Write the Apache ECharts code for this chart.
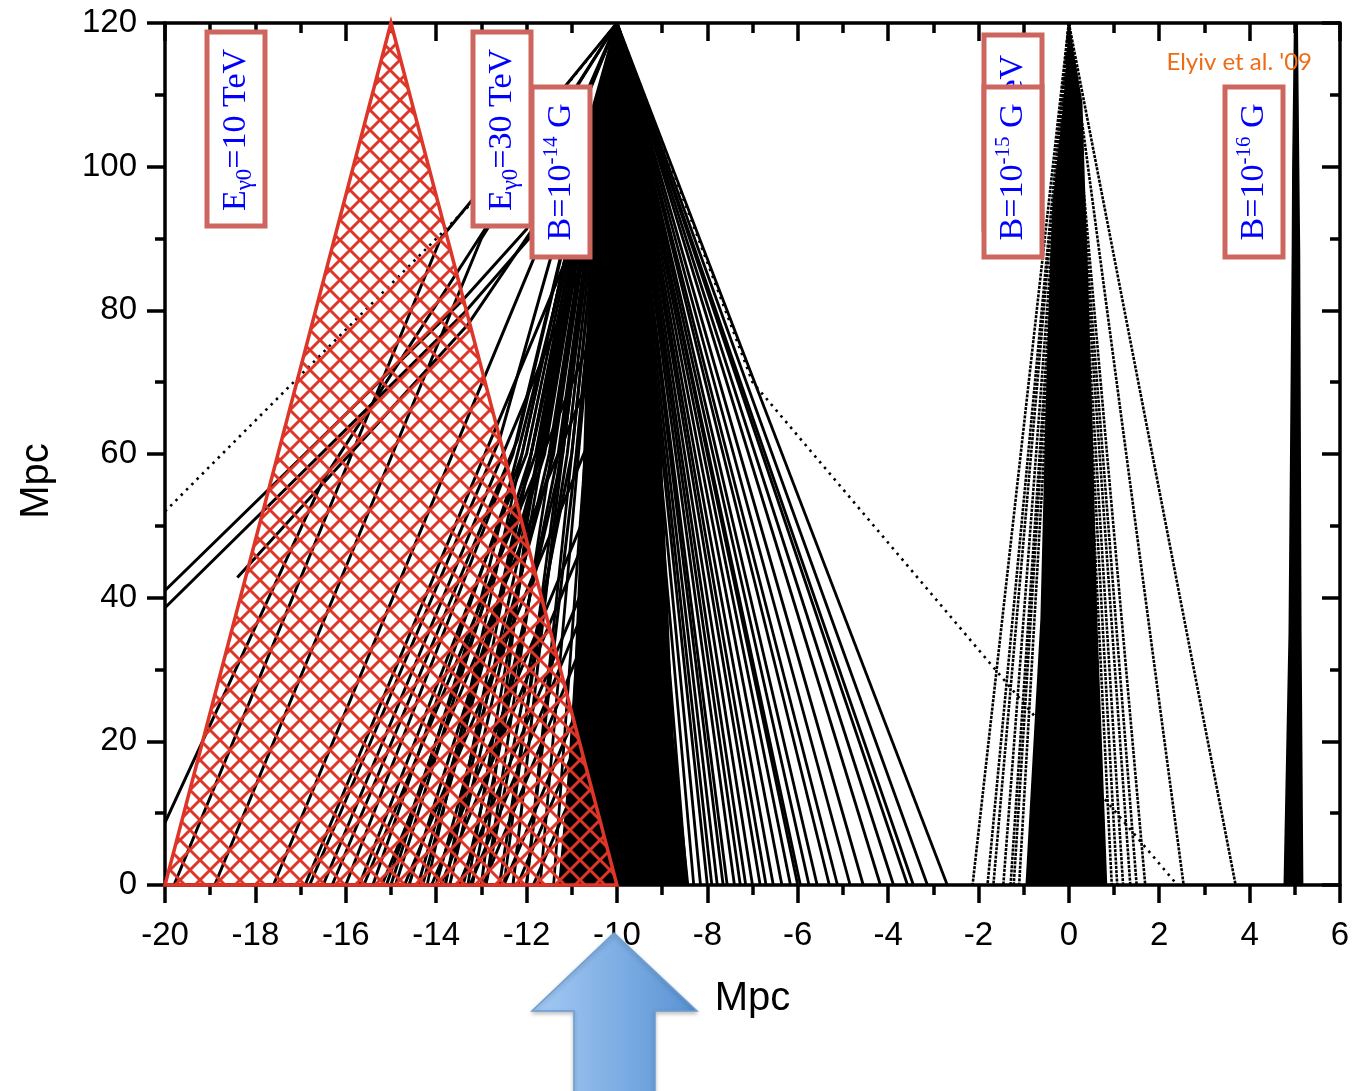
<!DOCTYPE html>
<html><head><meta charset="utf-8">
<script src="https://cdn.jsdelivr.net/npm/echarts@6/dist/echarts.min.js"></script>
<style>html,body{margin:0;padding:0;background:#fff;}#c{width:1353px;height:1091px;}</style>
</head><body><div id="c"></div>
<script>
// ---------------- data (Mpc) ----------------
const triangleX = [-20, -15, -10];
const triangleY = [0, 120, 0];

const fan1Apex = [-10, 120];
const fan1Ends = [-14.2, -13.8, -13.3, -12.9, -12.5, -12.0, -11.7, -11.4,
  -8.9, -8.7, -8.6, -8.45, -8.3, -8.15, -8.0, -7.9, -7.78, -7.65, -7.56, -7.4, -7.27, -7.15,
  -7.0, -6.83, -6.7, -6.54, -6.35, -6.16, -6.0, -5.94, -5.75, -5.57, -5.3, -5.12, -4.84,
  -4.55, -4.17, -3.88, -3.57, -3.44, -3.13, -2.69];
const fan1Paths = [
  [[-20, 41], [-13.4, 81.5], [-12.0, 91.3], [-10, 120]],
  [[-20, 38.6], [-13.4, 79.5], [-11.9, 90.3], [-10, 120]],
  [[-18.4, 42.8], [-13.3, 78], [-11.9, 91], [-10, 120]],
  [[-20, 8.7], [-16.5, 56.4], [-12.9, 91.5], [-10, 120]],
  [[-19.8, 0], [-13.9, 90], [-10, 120]],
  [[-18.9, 0], [-13.0, 90], [-10, 120]],
  [[-17.6, 0], [-10.6, 106], [-10, 120]],
  [[-16.9, 0], [-10.6, 95], [-10, 120]],
  [[-16.5, 0], [-10.6, 89], [-10, 120]],
  [[-15.6, 0], [-10.65, 75], [-10, 120]],
  [[-15.2, 0], [-10.65, 70], [-10, 120]],
  [[-14.7, 0], [-10.6, 62], [-10, 120]],
  [[-14.1, 0], [-10.6, 53], [-10, 120]],
  [[-13.9, 0], [-10.65, 49], [-10, 120]],
  [[-13.5, 0], [-10.7, 42], [-10, 120]],
  [[-13.25, 0], [-10.75, 38], [-10, 120]],
  [[-12.96, 0], [-10.8, 33], [-10, 120]],
  [[-12.5, 0], [-10.9, 24], [-10, 120]],
  [[-12.2, 0], [-11.0, 18], [-10, 120]],
  [[-11.85, 0], [-11.1, 11], [-10, 120]],
  [[-10, 120], [-10.9, 60], [-12.0, 0]],
  [[-10, 120], [-11.0, 60], [-12.9, 0]],
  [[-10, 120], [-11.1, 60], [-12.6, 0]],
  [[-10, 120], [-11.2, 60], [-13.4, 0]],
  [[-10, 120], [-11.3, 60], [-13.2, 0]],
  [[-10, 120], [-11.4, 60], [-14.0, 0]],
  [[-10, 120], [-11.5, 60], [-13.7, 0]],
  [[-10, 120], [-11.6, 60], [-14.6, 0]],
  [[-10, 120], [-11.7, 60], [-14.3, 0]],
  [[-10, 120], [-11.8, 60], [-15.1, 0]],
  [[-10, 120], [-11.9, 60], [-14.9, 0]],
  [[-10, 120], [-12.0, 60], [-15.7, 0]],
  [[-10, 120], [-12.1, 60], [-15.4, 0]],
  [[-10, 120], [-12.2, 62], [-16.3, 0]],
  [[-10, 120], [-12.3, 60], [-16.0, 0]],
  [[-10, 120], [-12.6, 62], [-16.8, 0]],
  [[-10, 120], [-10.8, 80], [-11.4, 50], [-12.3, 0]],
  [[-10, 120], [-10.9, 90], [-12.0, 50], [-13.0, 0]],
  [[-10, 120], [-11.0, 85], [-12.2, 45], [-13.8, 0]],
  [[-10, 120], [-11.2, 80], [-12.6, 40], [-14.4, 0]],
  [[-10, 120], [-11.4, 80], [-13.0, 40], [-15.0, 0]]
];
const sparsePaths = [
  [[-20, 52], [-13.25, 94.7], [-10, 120]],
  [[-10, 120], [-7.0, 70], [2.4, 0]]
];
const core1X = [-10, -10.55, -10.65, -10.75, -11.0, -11.3, -8.4, -8.75, -9.0, -9.3, -9.35];
const core1Y = [120, 108, 80, 59, 21, 0, 0, 21, 59, 80, 108];

const fan2Apex = [0, 120];
const fan2Ends = [-2.13, -1.8, -1.67, -1.45, -1.29, -1.22, -1.1, 0.95, 1.07, 1.2, 1.36, 1.5, 1.69, 2.54, 3.69];
const core2X = [0, -0.12, -0.36, -0.41, -0.52, -0.63, -0.96, 0.85, 0.63, 0.52, 0.41, 0.37, 0.3];
const core2Y = [120, 109, 95, 88, 65, 37, 0, 0, 37, 65, 88, 95, 109];

const core3X = [4.98, 4.94, 4.93, 4.86, 4.75, 5.19, 5.15, 5.12, 5.1, 5.07];
const core3Y = [120, 100, 88, 35, 0, 0, 35, 88, 100, 120];

const boxLabels = [
  {pre: 'E', sub: 'γ0', post: '=10 TeV'},
  {pre: 'E', sub: 'γ0', post: '=30 TeV'},
  {pre: 'B=10', sup: '-14', post: ' G'},
  {pre: 'E', sub: 'γ0', post: '=10 TeV'},
  {pre: 'B=10', sup: '-15', post: ' G'},
  {pre: 'B=10', sup: '-16', post: ' G'}
];
const citation = "Elyiv et al. '09";
const axisName = 'Mpc';

// ---------------- rendering ----------------
const RED = '#de3529';
function hatch() {
  const s = 20, c = document.createElement('canvas');
  c.width = s; c.height = s;
  const g = c.getContext('2d');
  g.strokeStyle = RED; g.lineWidth = 3;
  g.beginPath();
  for (let k = -1; k <= 1; k++) {
    g.moveTo(k * s - 3, -3); g.lineTo(k * s + s + 3, s + 3);
    g.moveTo(k * s + s + 3, -3); g.lineTo(k * s - 3, s + 3);
  }
  g.stroke();
  return c;
}
function polySeries(xs, ys, style, z) {
  return {
    type: 'custom', z: z, silent: true, coordinateSystem: 'cartesian2d',
    data: [[xs[0], ys[0]]],
    renderItem: (params, api) => ({
      type: 'polygon',
      shape: {points: xs.map((x, i) => api.coord([x, ys[i]]))},
      style: style
    })
  };
}
function pathSeries(paths, style, z) {
  return {
    type: 'custom', z: z, silent: true, coordinateSystem: 'cartesian2d',
    data: [[paths[0][0][0], paths[0][0][1]]],
    renderItem: (params, api) => ({
      type: 'group',
      children: paths.map(p => ({
        type: 'polyline',
        shape: {points: p.map(q => api.coord(q))},
        style: Object.assign({stroke: '#000', fill: null, lineJoin: 'round'}, style)
      }))
    })
  };
}

const chart = echarts.init(document.getElementById('c'), null, {renderer: 'canvas'});
const axisCommon = {
  type: 'value', splitLine: {show: false},
  axisLine: {show: true, onZero: false, lineStyle: {color: '#000', width: 3.5}},
  axisTick: {show: true, length: 18, lineStyle: {color: '#000', width: 3.5}},
  minorTick: {show: true, splitNumber: 2, length: 10, lineStyle: {color: '#000', width: 3.5}},
  axisLabel: {color: '#000', fontSize: 33, fontFamily: 'Liberation Sans'}
};
function ax(extra) { return echarts.util.merge(echarts.util.clone(axisCommon), extra, true); }

const boxes = [
  {x: 207, y: 32, w: 58, h: 194},
  {x: 473, y: 32, w: 58, h: 194},
  {x: 532, y: 87, w: 58, h: 170},
  {x: 984, y: 35, w: 58, h: 194},
  {x: 984, y: 87, w: 58, h: 170},
  {x: 1225, y: 87, w: 58, h: 170}
];
const textCenters = [[236, 130], [502, 130], [561, 172], [1013, 136], [1013, 172], [1254, 172]];
const graphics = [];
boxes.forEach((b, i) => {
  graphics.push({type: 'rect', z: 100 + i * 2, shape: {x: b.x, y: b.y, width: b.w, height: b.h},
    style: {fill: '#fff', stroke: '#cd665f', lineWidth: 5}});
  const L = boxLabels[i];
  let txt = '{m|' + L.pre + '}';
  if (L.sub) txt += '{s|' + L.sub + '}';
  if (L.sup) txt += '{u|' + L.sup + '}';
  txt += '{m|' + L.post + '}';
  graphics.push({type: 'text', z: 101 + i * 2, x: textCenters[i][0], y: textCenters[i][1], rotation: Math.PI / 2,
    style: {text: txt, align: 'center', verticalAlign: 'middle', fill: '#0000ff',
      rich: {
        m: {fontSize: 34, fontFamily: 'Liberation Serif', fill: '#0000ff', lineHeight: 40},
        s: {fontSize: 23, fontFamily: 'Liberation Serif', fill: '#0000ff', lineHeight: 24, verticalAlign: 'bottom'},
        u: {fontSize: 21, fontFamily: 'Liberation Serif', fill: '#0000ff', lineHeight: 24, verticalAlign: 'top'}
      }}});
});
graphics.push({type: 'text', z: 120, x: 1312, y: 62,
  style: {text: citation, align: 'right', verticalAlign: 'middle', fill: '#ef6c17', font: '24px Lato'}});
graphics.push({type: 'text', z: 120, x: 37, y: 481, rotation: Math.PI / 2,
  style: {text: axisName, align: 'center', verticalAlign: 'middle', fill: '#000', font: '40px "Liberation Sans"'}});
graphics.push({type: 'polygon', z: 130,
  shape: {points: [[614, 933], [697, 1011], [655, 1011], [655, 1095], [574, 1095], [574, 1011], [532, 1011]]},
  style: {fill: new echarts.graphic.LinearGradient(0, 0, 1, 0, [{offset: 0, color: '#a6cbf5'}, {offset: 1, color: '#5892d3'}]),
    stroke: '#6b9dd4', lineWidth: 1.5, shadowBlur: 4, shadowColor: 'rgba(0,0,0,0.25)', shadowOffsetY: 2}});

const hatchImg = hatch();
chart.setOption({
  animation: false,
  grid: {left: 165, right: 13, top: 23, bottom: 206, containLabel: false},
  xAxis: [
    ax({position: 'bottom', min: -20, max: 6, interval: 2, axisLabel: {margin: 34},
      name: axisName, nameLocation: 'middle', nameGap: 94,
      nameTextStyle: {color: '#000', fontSize: 40, fontFamily: 'Liberation Sans'}}),
    ax({position: 'top', min: -20, max: 6, interval: 2, axisTick: {inside: true}, axisLabel: {show: false}})
  ],
  yAxis: [
    ax({position: 'left', min: 0, max: 120, interval: 20, axisLabel: {margin: 28}}),
    ax({position: 'right', min: 0, max: 120, interval: 20, axisTick: {inside: true}, axisLabel: {show: false}})
  ],
  series: [
    pathSeries(fan1Ends.map(x => [fan1Apex, [x, 0]]), {lineWidth: 2.8}, 2),
    pathSeries(fan1Paths, {lineWidth: 3}, 2),
    pathSeries(sparsePaths, {lineWidth: 2.6, lineDash: [2.5, 5]}, 2),
    pathSeries(fan2Ends.map(x => [fan2Apex, [x, 0]]), {lineWidth: 2.6, lineDash: [3, 1.2]}, 2),
    pathSeries([[[5.02, 120], [5.02, 0]]], {lineWidth: 3.5}, 2),
    polySeries(core1X, core1Y, {fill: '#000'}, 3),
    polySeries(core2X, core2Y, {fill: '#000'}, 3),
    polySeries(core3X, core3Y, {fill: '#000'}, 3),
    polySeries(triangleX, triangleY, {fill: {image: hatchImg, repeat: 'repeat'}, stroke: RED, lineWidth: 3.5, lineJoin: 'miter'}, 5)
  ],
  graphic: graphics
});
</script></body></html>
